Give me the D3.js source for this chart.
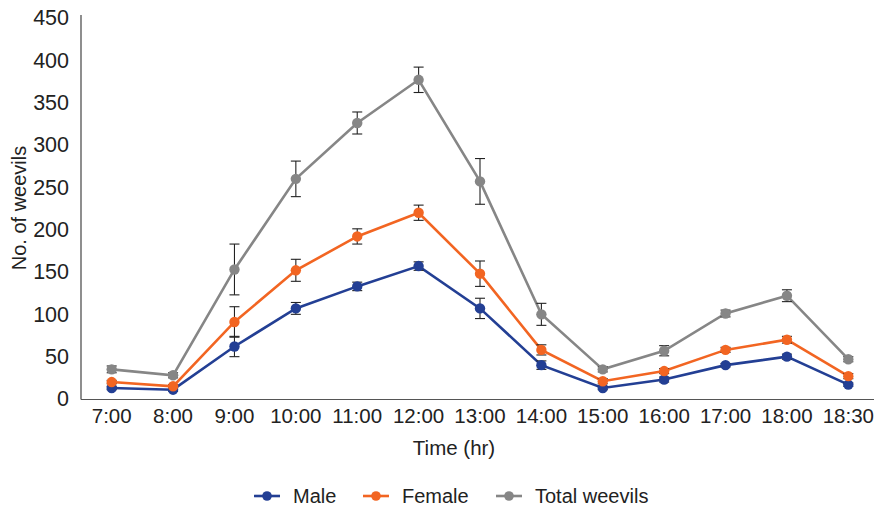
<!DOCTYPE html>
<html>
<head>
<meta charset="utf-8">
<script src="https://d3js.org/d3.v7.min.js"></script>
<style>
  body { margin: 0; background: #fff; }
  svg { font-family: "Liberation Sans", Arial, sans-serif; }
  .tick text { font-family: "Liberation Sans Narrow", "Arial Narrow", "Liberation Sans", sans-serif; }
</style>
</head>
<body>
<div id="chart"></div>
<script>
// data
var times = ["7:00","8:00","9:00","10:00","11:00","12:00","13:00","14:00","15:00","16:00","17:00","18:00","18:30"];
var male = [13, 11, 62, 107, 133, 157, 107, 40, 13, 23, 40, 50, 17];
var maleErr = [2, 2, 12, 7, 5, 5, 12, 5, 2, 3, 2, 3, 2];
var female = [20, 15, 91, 152, 192, 220, 148, 58, 21, 33, 58, 70, 27];
var femaleErr = [2, 2, 18, 13, 9, 9, 15, 6, 3, 3, 3, 4, 3];
var total = [35, 28, 153, 260, 326, 377, 257, 100, 35, 57, 101, 122, 47];
var totalErr = [4, 3, 30, 21, 13, 15, 27, 13, 3, 6, 4, 7, 3];
var yTicks = [0, 50, 100, 150, 200, 250, 300, 350, 400, 450];

var series = [
  {name: "Male", values: male, err: maleErr, color: "#233f94"},
  {name: "Female", values: female, err: femaleErr, color: "#f26522"},
  {name: "Total weevils", values: total, err: totalErr, color: "#868686"}
];

var W = 874, H = 513;
var svg = d3.select("#chart").append("svg")
  .attr("width", W)
  .attr("height", H);

var x = d3.scaleBand().domain(times).range([81, 879]);
var y = d3.scaleLinear().domain([0, 450]).range([399, 18]);
var cx = function(t) { return x(t) + x.bandwidth() / 2; };

// axes
var yAxis = svg.append("g")
  .attr("transform", "translate(81,0)")
  .call(d3.axisLeft(y).tickValues(yTicks).tickSize(0).tickPadding(12));
yAxis.select(".domain").attr("stroke", "#444").attr("stroke-width", 1.2).attr("d", "M0,15V399.5");
yAxis.selectAll("text").attr("font-size", 21.5).attr("fill", "#222");

var xAxis = svg.append("g")
  .attr("transform", "translate(0,399.5)")
  .call(d3.axisBottom(x).tickSize(0).tickPadding(9));
xAxis.select(".domain").attr("stroke", "#555").attr("stroke-width", 1.2).attr("d", "M81,0H874");
xAxis.selectAll("text").attr("font-size", 20.5).attr("fill", "#222");

// axis titles
svg.append("text")
  .attr("transform", "translate(26,208) rotate(-90)")
  .attr("text-anchor", "middle")
  .attr("font-size", 20)
  .attr("fill", "#222")
  .text("No. of weevils");

svg.append("text")
  .attr("x", 454)
  .attr("y", 455)
  .attr("text-anchor", "middle")
  .attr("font-size", 20.5)
  .attr("fill", "#222")
  .text("Time (hr)");

var line = d3.line()
  .x(function(d, i) { return cx(times[i]); })
  .y(function(d) { return y(d); });

// lines, then error bars, then markers
series.forEach(function(s) {
  svg.append("path")
    .datum(s.values)
    .attr("fill", "none")
    .attr("stroke", s.color)
    .attr("stroke-width", 2.6)
    .attr("d", line);
});

series.forEach(function(s) {
  var g = svg.append("g").attr("stroke", "#222").attr("stroke-width", 1.1);
  s.values.forEach(function(v, i) {
    var px = cx(times[i]);
    var hi = y(v + s.err[i]), lo = y(v - s.err[i]);
    g.append("line").attr("x1", px).attr("x2", px).attr("y1", hi).attr("y2", lo);
    g.append("line").attr("x1", px - 5).attr("x2", px + 5).attr("y1", hi).attr("y2", hi);
    g.append("line").attr("x1", px - 5).attr("x2", px + 5).attr("y1", lo).attr("y2", lo);
  });
});

series.forEach(function(s) {
  svg.append("g").selectAll("circle")
    .data(s.values)
    .join("circle")
      .attr("cx", function(d, i) { return cx(times[i]); })
      .attr("cy", function(d) { return y(d); })
      .attr("r", 5.2)
      .attr("fill", s.color);
});

// legend
var legendX = [254, 363, 496];
var lg = svg.append("g").attr("transform", "translate(0,496)");
series.forEach(function(s, i) {
  var g = lg.append("g").attr("transform", "translate(" + legendX[i] + ",0)");
  g.append("line").attr("x1", 0).attr("x2", 26).attr("y1", 0).attr("y2", 0)
    .attr("stroke", s.color).attr("stroke-width", 2.6);
  g.append("circle").attr("cx", 13).attr("cy", 0).attr("r", 4.8).attr("fill", s.color);
  g.append("text").attr("x", 39).attr("y", 7)
    .attr("font-size", 20).attr("fill", "#222").text(s.name);
});
</script>
</body>
</html>
